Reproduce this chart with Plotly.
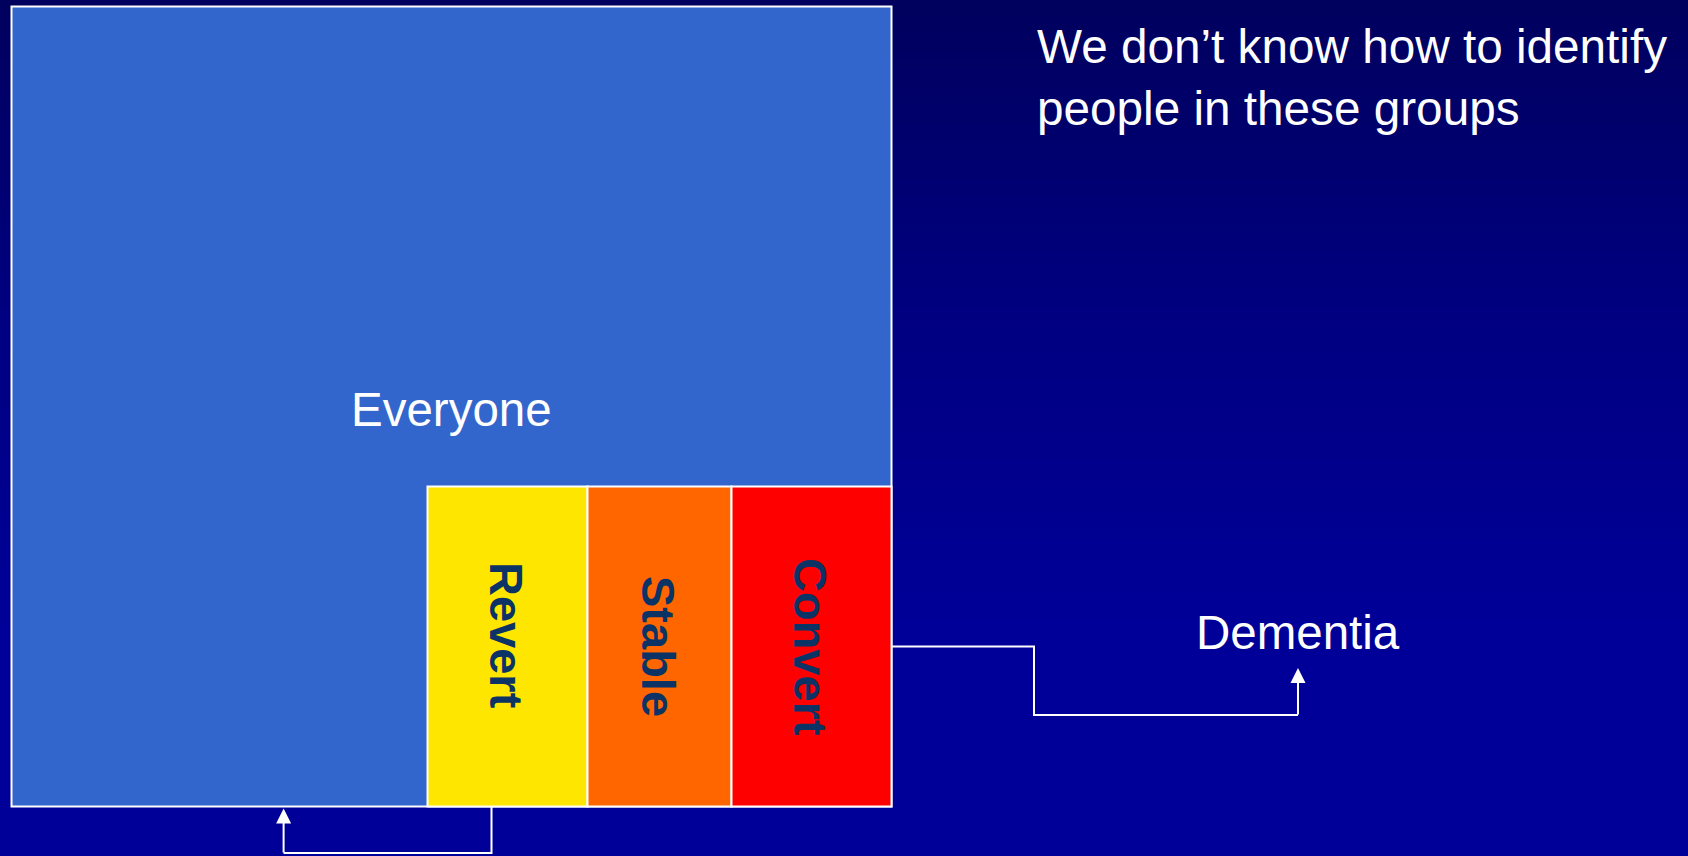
import plotly.graph_objects as go

# ---------------- data ----------------
groups = ["Revert", "Stable", "Convert"]
group_widths = [160, 144, 160]          # relative widths of the sub-groups (diagram units)
everyone_label = "Everyone"
outcome_label = "Dementia"
note_lines = ["We don’t know how to identify", "people in these groups"]

# ---------------- layout / style ----------------
W, H = 1688, 856
BOX_X0, BOX_Y0 = 11.5, 6.5
BOX_W, BOX_H = 880, 800
SUB_H = 320
group_colors = ["#FFE600", "#FF6600", "#FF0000"]
label_offsets = [-11, 0, 0]
EVERYONE_COLOR = "#3366CC"
LABEL_COLOR = "#0B3366"
FONT = "Liberation Sans, Arial, Helvetica, sans-serif"

fig = go.Figure()

# gradient background
fig.add_trace(go.Heatmap(
    x=[0, W], y=[0, 320, 640, 900, 1200], z=[[0, 0], [0.55, 0.55], [1, 1], [1, 1], [1, 1]],
    zsmooth="best", showscale=False, hoverinfo="skip",
    colorscale=[[0, "#00005E"], [0.55, "#000081"], [1, "#000099"]],
    zmin=0, zmax=1,
))

box_x1 = BOX_X0 + BOX_W
box_y1 = BOX_Y0 + BOX_H
sub_y0 = box_y1 - SUB_H

shapes = []
shapes.append(dict(type="rect", xref="x", yref="y", x0=BOX_X0, x1=box_x1, y0=BOX_Y0, y1=box_y1,
                   fillcolor=EVERYONE_COLOR, line=dict(color="white", width=2), layer="above"))

x = box_x1 - sum(group_widths)
sub_x = []
for g, w, c in zip(groups, group_widths, group_colors):
    shapes.append(dict(type="rect", xref="x", yref="y", x0=x, x1=x + w, y0=sub_y0, y1=box_y1,
                       fillcolor=c, line=dict(color="white", width=2), layer="above"))
    sub_x.append((x, x + w))
    x += w

annotations = []
annotations.append(dict(x=(BOX_X0 + box_x1) / 2, y=409, xref="x", yref="y", text=everyone_label,
                        showarrow=False, font=dict(family=FONT, size=47.5, color="white")))
for g, (a, b), off in zip(groups, sub_x, label_offsets):
    annotations.append(dict(x=(a + b) / 2 - 1, y=(sub_y0 + box_y1) / 2 + off, xref="x", yref="y",
                            text=f"<b>{g}</b>", textangle=90, showarrow=False,
                            font=dict(family=FONT, size=47, color=LABEL_COLOR)))

annotations.append(dict(x=1035, y=18, xref="x", yref="y", xanchor="left", yanchor="top", align="left",
                        text="<br>".join(note_lines), showarrow=False,
                        font=dict(family=FONT, size=47.7, color="white")))
annotations.append(dict(x=1298, y=632, xref="x", yref="y", text=outcome_label, showarrow=False,
                        font=dict(family=FONT, size=47.5, color="white")))

# connector: convert group -> Dementia
mid_y = (sub_y0 + box_y1) / 2
dem_x, dem_mid_x, dem_low_y, dem_tip_y = 1298, 1034, 715, 668
fig.add_trace(go.Scatter(x=[box_x1, dem_mid_x, dem_mid_x, dem_x], y=[mid_y, mid_y, dem_low_y, dem_low_y],
                         mode="lines", line=dict(color="white", width=2), hoverinfo="skip", showlegend=False))
annotations.append(dict(x=dem_x, y=dem_tip_y, ax=dem_x, ay=dem_low_y + 1, xref="x", yref="y",
                        axref="x", ayref="y", text="", showarrow=True, arrowhead=2, arrowsize=1.5,
                        arrowwidth=2, arrowcolor="white", standoff=0))

# connector: revert group -> back to everyone
rev_x = sub_x[0][0] + 64
low_y, back_x = 853, 283.6
fig.add_trace(go.Scatter(x=[rev_x, rev_x, back_x], y=[box_y1, low_y, low_y],
                         mode="lines", line=dict(color="white", width=2), hoverinfo="skip", showlegend=False))
annotations.append(dict(x=back_x, y=box_y1 + 2, ax=back_x, ay=low_y + 1, xref="x", yref="y",
                        axref="x", ayref="y", text="", showarrow=True, arrowhead=2, arrowsize=1.5,
                        arrowwidth=2, arrowcolor="white", standoff=0))

fig.update_layout(
    width=W, height=H, margin=dict(l=0, r=0, t=0, b=0),
    paper_bgcolor="#000099", plot_bgcolor="#000099",
    shapes=shapes, annotations=annotations, showlegend=False,
    xaxis=dict(range=[0, W], visible=False, fixedrange=True),
    yaxis=dict(range=[H, 0], visible=False, fixedrange=True),
)

fig.write_html("out.html")
